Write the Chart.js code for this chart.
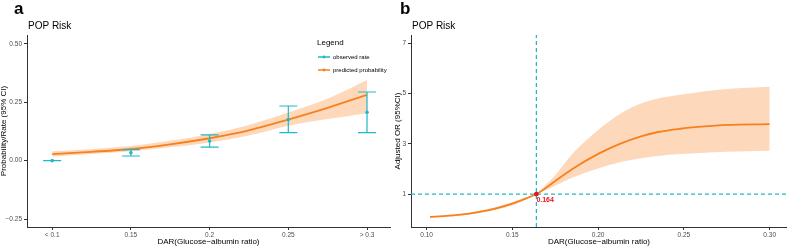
<!DOCTYPE html>
<html>
<head>
<meta charset="utf-8">
<script src="https://cdn.jsdelivr.net/npm/chart.js@4.4.1/dist/chart.umd.min.js"></script>
<style>
  html, body { margin: 0; padding: 0; background: #fff; }
  #wrap { position: relative; width: 787px; height: 247px; }
  #boxA { position: absolute; left: 0; top: 0; width: 394px; height: 247px; }
  #boxB { position: absolute; left: 394px; top: 0; width: 393px; height: 247px; }
</style>
</head>
<body>
<div id="wrap">
  <div id="boxA"><canvas id="chartA"></canvas></div>
  <div id="boxB"><canvas id="chartB"></canvas></div>
</div>
<script>
// ---- panel a data ----
const catTicks = [0.1, 0.15, 0.2, 0.25, 0.3];
const catLabels = ['< 0.1', '0.15', '0.2', '0.25', '> 0.3'];
const obsRate = [0.0, 0.034, 0.084, 0.176, 0.207];
const obsLo = [0.0, 0.02, 0.058, 0.12, 0.12];
const obsHi = [0.0, 0.047, 0.11, 0.234, 0.294];
const predX = [0.1, 0.125, 0.15, 0.175, 0.2, 0.225, 0.25, 0.275, 0.3];
const predP = [0.028, 0.038, 0.05, 0.07, 0.096, 0.13, 0.176, 0.226, 0.282];
const predLo = [0.017, 0.028, 0.04, 0.057, 0.078, 0.108, 0.15, 0.178, 0.203];
const predHi = [0.04, 0.05, 0.063, 0.085, 0.114, 0.153, 0.206, 0.265, 0.345];
const yTicksA = [-0.25, 0, 0.25, 0.5];

// ---- panel b data ----
const darX = [0.102, 0.11, 0.12, 0.13, 0.14, 0.15, 0.157, 0.164, 0.17, 0.175, 0.185, 0.2, 0.213, 0.225, 0.235, 0.248, 0.26, 0.275, 0.3];
const orVal = [0.09, 0.12, 0.18, 0.28, 0.42, 0.62, 0.8, 1.0, 1.27, 1.52, 2.0, 2.6, 3.01, 3.3, 3.47, 3.6, 3.68, 3.75, 3.78];
const orLo = [0.07, 0.1, 0.15, 0.24, 0.37, 0.56, 0.76, 1.0, 1.17, 1.33, 1.66, 2.02, 2.28, 2.43, 2.52, 2.59, 2.63, 2.68, 2.72];
const orHi = [0.11, 0.15, 0.22, 0.33, 0.48, 0.68, 0.85, 1.0, 1.4, 1.75, 2.6, 3.55, 4.2, 4.6, 4.8, 4.95, 5.07, 5.18, 5.27];
const cutoff = 0.164;
const refOR = 1;
const xTicksB = [0.1, 0.15, 0.2, 0.25, 0.3];
const yTicksB = [1, 3, 5, 7];

const TEAL = '#22b9c6';
const ORANGE = '#f7801f';
const BAND = 'rgba(253,190,140,0.6)';
const FONT = '"Liberation Sans", Arial, sans-serif';

Chart.defaults.font.family = FONT;
Chart.defaults.animation = false;

const pts = (xs, ys) => xs.map((x, i) => ({ x: x, y: ys[i] }));

function axisStyle() {
    return {
        border: { display: true, color: '#333', width: 1 },
        grid: { drawOnChartArea: false, drawTicks: true, tickLength: 3, tickColor: '#333' },
    };
}

// text labels for panel headers
function headerPlugin(letter, letterX) {
    return {
        id: 'header',
        afterDraw(chart) {
            const ctx = chart.ctx;
            ctx.save();
            ctx.fillStyle = '#000';
            ctx.textBaseline = 'alphabetic';
            ctx.font = 'bold 17px ' + FONT;
            ctx.fillText(letter, letterX, 14);
            ctx.font = '10px ' + FONT;
            ctx.fillText('POP Risk', chart.chartArea.left + 1, 29);
            ctx.restore();
        }
    };
}

// error bars for observed rates
const errorBars = {
    id: 'errorBars',
    afterDatasetsDraw(chart) {
        const ctx = chart.ctx, xs = chart.scales.x, ys = chart.scales.y;
        ctx.save();
        ctx.strokeStyle = TEAL;
        ctx.lineWidth = 1.2;
        catTicks.forEach((c, i) => {
            const px = xs.getPixelForValue(c);
            const yl = ys.getPixelForValue(obsLo[i]);
            const yh = ys.getPixelForValue(obsHi[i]);
            ctx.beginPath();
            ctx.moveTo(px, yl); ctx.lineTo(px, yh);
            ctx.moveTo(px - 9, yl); ctx.lineTo(px + 9, yl);
            ctx.moveTo(px - 9, yh); ctx.lineTo(px + 9, yh);
            ctx.stroke();
            ctx.fillStyle = TEAL;
            ctx.beginPath();
            ctx.arc(px, ys.getPixelForValue(obsRate[i]), 1.8, 0, Math.PI * 2);
            ctx.fill();
        });
        ctx.restore();
    }
};

// custom legend box for panel a
const legendA = {
    id: 'legendA',
    afterDraw(chart) {
        const ctx = chart.ctx;
        ctx.save();
        ctx.fillStyle = '#000';
        ctx.font = '8px ' + FONT;
        ctx.textBaseline = 'middle';
        ctx.fillText('Legend', 317, 43);
        const items = [['observed rate', TEAL, 57], ['predicted probability', ORANGE, 70]];
        ctx.font = '6px ' + FONT;
        items.forEach(([txt, col, y]) => {
            ctx.strokeStyle = col;
            ctx.lineWidth = 1.5;
            ctx.beginPath(); ctx.moveTo(318, y); ctx.lineTo(330, y); ctx.stroke();
            ctx.fillStyle = col;
            ctx.beginPath(); ctx.arc(324, y, 1.4, 0, Math.PI * 2); ctx.fill();
            ctx.fillStyle = '#000';
            ctx.fillText(txt, 333, y);
        });
        ctx.restore();
    }
};

// cutoff point label for panel b
const cutLabel = {
    id: 'cutLabel',
    afterDatasetsDraw(chart) {
        const ctx = chart.ctx;
        const px = chart.scales.x.getPixelForValue(cutoff);
        const py = chart.scales.y.getPixelForValue(refOR);
        ctx.save();
        ctx.fillStyle = '#e8141f';
        ctx.beginPath(); ctx.arc(px, py, 2.4, 0, Math.PI * 2); ctx.fill();
        ctx.font = 'bold 7px ' + FONT;
        ctx.textBaseline = 'middle';
        ctx.fillText(cutoff.toFixed(3), px, py + 6);
        ctx.restore();
    }
};

const chartA = new Chart(document.getElementById('chartA'), {
    type: 'line',
    data: {
        datasets: [
            {
                data: pts(predX, predLo), borderWidth: 0, pointRadius: 0, order: 3,
                cubicInterpolationMode: 'monotone', fill: false,
            },
            {
                data: pts(predX, predHi), borderWidth: 0, pointRadius: 0, order: 2,
                cubicInterpolationMode: 'monotone', fill: 0, backgroundColor: BAND,
            },
            {
                data: pts(predX, predP), borderColor: ORANGE, borderWidth: 1.8, pointRadius: 0, order: 1,
                cubicInterpolationMode: 'monotone', fill: false,
            },
        ],
    },
    options: {
        responsive: true,
        maintainAspectRatio: false,
        layout: { padding: { top: 35, right: 4, left: 0, bottom: 0 } },
        plugins: { legend: { display: false }, tooltip: { enabled: false } },
        scales: {
            x: {
                type: 'linear', min: 0.084, max: 0.3146,
                ...axisStyle(),
                afterBuildTicks: (s) => { s.ticks = catTicks.map(v => ({ value: v })); },
                afterFit: (s) => { s.height = 20; },
                ticks: {
                    color: '#4d4d4d', font: { size: 6.5 }, padding: 1, maxRotation: 0,
                    callback: (v) => catLabels[catTicks.indexOf(v)],
                },
                title: { display: true, text: 'DAR(Glucose−albumin ratio)', color: '#000', font: { size: 8 }, padding: 0 },
            },
            y: {
                min: -0.284, max: 0.538,
                ...axisStyle(),
                afterBuildTicks: (s) => { s.ticks = yTicksA.map(v => ({ value: v })); },
                afterFit: (s) => { s.width = 27; },
                ticks: {
                    color: '#4d4d4d', font: { size: 6.5 }, padding: 2,
                    callback: (v) => v.toFixed(2).replace('-', '−'),
                },
                title: { display: true, text: 'Probability/Rate (95% CI)', color: '#000', font: { size: 8, lineHeight: 1 }, padding: 0 },
            },
        },
    },
    plugins: [headerPlugin('a', 14), errorBars, legendA],
});

const chartB = new Chart(document.getElementById('chartB'), {
    type: 'line',
    data: {
        datasets: [
            {
                data: pts(darX, orLo), borderWidth: 0, pointRadius: 0, order: 4,
                cubicInterpolationMode: 'monotone', fill: false,
            },
            {
                data: pts(darX, orHi), borderWidth: 0, pointRadius: 0, order: 3,
                cubicInterpolationMode: 'monotone', fill: 0, backgroundColor: BAND,
            },
            {
                data: pts(darX, orVal), borderColor: ORANGE, borderWidth: 1.8, pointRadius: 0, order: 1,
                cubicInterpolationMode: 'monotone', fill: false,
            },
            {
                data: [{ x: cutoff, y: -0.31 }, { x: cutoff, y: 7.33 }], order: 2,
                borderColor: TEAL, borderWidth: 1.3, borderDash: [4, 3], pointRadius: 0, fill: false,
            },
            {
                data: [{ x: 0.0909, y: refOR }, { x: 0.3101, y: refOR }], order: 2,
                borderColor: TEAL, borderWidth: 1.3, borderDash: [4, 3], pointRadius: 0, fill: false,
            },
        ],
    },
    options: {
        responsive: true,
        maintainAspectRatio: false,
        layout: { padding: { top: 35, right: 0, left: 0, bottom: 0 } },
        plugins: { legend: { display: false }, tooltip: { enabled: false } },
        scales: {
            x: {
                type: 'linear', min: 0.0909, max: 0.3101,
                ...axisStyle(),
                afterBuildTicks: (s) => { s.ticks = xTicksB.map(v => ({ value: v })); },
                afterFit: (s) => { s.height = 20; },
                ticks: {
                    color: '#4d4d4d', font: { size: 6.5 }, padding: 1, maxRotation: 0,
                    callback: (v) => v.toFixed(2),
                },
                title: { display: true, text: 'DAR(Glucose−albumin ratio)', color: '#000', font: { size: 8 }, padding: 0 },
            },
            y: {
                min: -0.31, max: 7.33,
                ...axisStyle(),
                afterBuildTicks: (s) => { s.ticks = yTicksB.map(v => ({ value: v })); },
                afterFit: (s) => { s.width = 17; },
                ticks: {
                    color: '#4d4d4d', font: { size: 6.5 }, padding: 2,
                    callback: (v) => String(v),
                },
                title: { display: true, text: 'Adjusted OR (95%CI)', color: '#000', font: { size: 8, lineHeight: 1 }, padding: 0 },
            },
        },
    },
    plugins: [headerPlugin('b', 6), cutLabel],
});
</script>
</body>
</html>
